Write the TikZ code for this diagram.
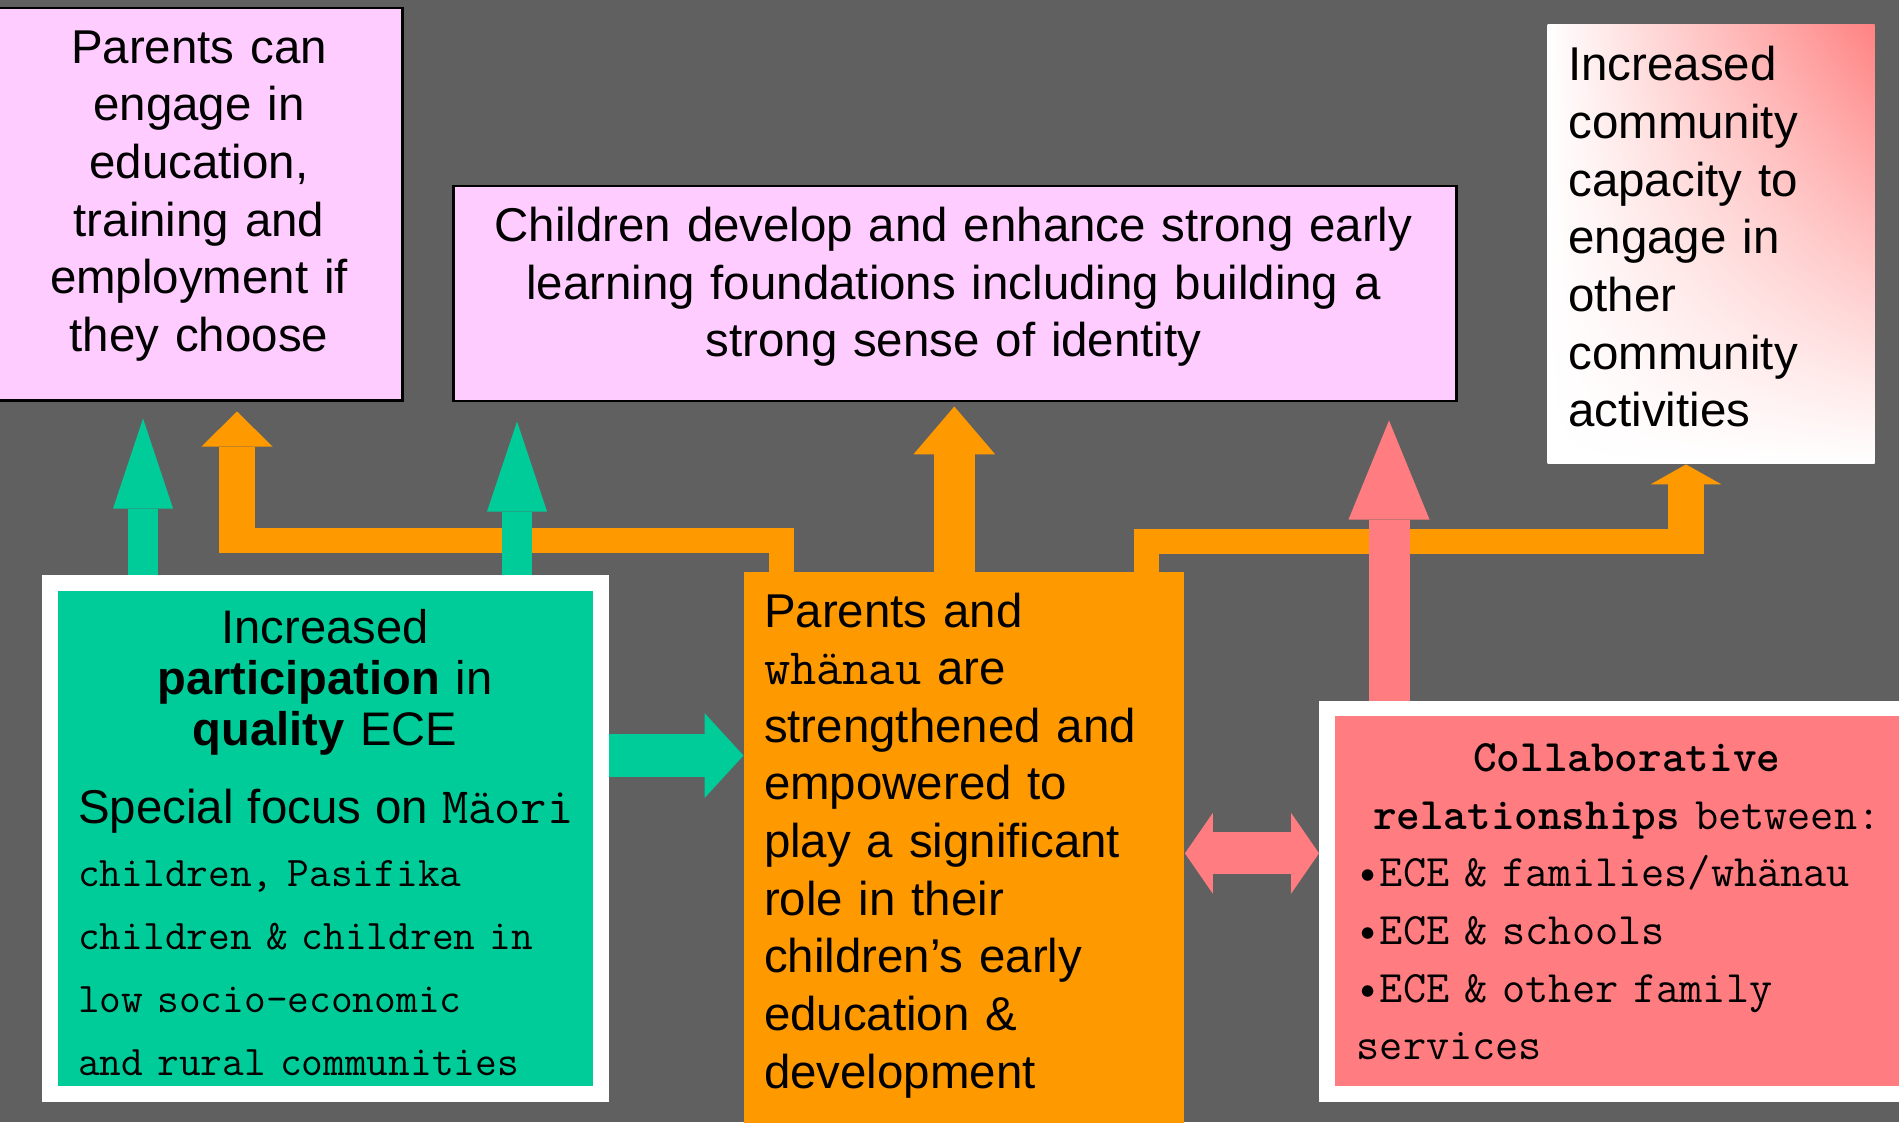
\documentclass[tikz,border=0pt]{standalone}
\usepackage{fontspec}
\setmainfont{Liberation Sans}
\usetikzlibrary{arrows.meta,shadings}

\definecolor{slide}{RGB}{96,96,96}
\definecolor{lilac}{RGB}{255,204,255}
\definecolor{ecegreen}{RGB}{0,204,153}
\definecolor{amber}{RGB}{255,153,0}
\definecolor{salmon}{RGB}{255,124,128}
\definecolor{blush}{RGB}{255,130,130}

\newcommand{\boxtext}{\fontsize{13.5pt}{16.4pt}\selectfont}
\newcommand{\maori}[1]{{\fontsize{14.5pt}{16.4pt}\selectfont\ttfamily #1}}

\begin{document}
\begin{tikzpicture}\tikzstyle{every node}=[inner sep=0pt]
\tikzstyle{outcome}=[draw=black, line width=0.025cm, fill=lilac, anchor=north west]
\tikzstyle{framed}=[draw=white, line width=0.155cm, anchor=north west]
\tikzstyle{blurb}=[font=\boxtext, align=left, anchor=base west]
\tikzstyle{greenup}=[ecegreen, line width=0.30cm, -{Triangle[width=0.60cm, length=0.90cm, line width=0pt]}]
\tikzstyle{greenright}=[ecegreen, line width=0.43cm, -{Triangle[width=0.85cm, length=0.39cm, line width=0pt]}]
\tikzstyle{amberbar}=[amber, line width=0.25cm]
\tikzstyle{amberup}=[amber, line width=0.36cm, -{Triangle[width=0.71cm, length=0.35cm, line width=0pt]}]
\tikzstyle{amberbig}=[amber, line width=0.41cm, -{Triangle[width=0.82cm, length=0.48cm, line width=0pt]}]
\tikzstyle{salmonup}=[salmon, line width=0.41cm, -{Triangle[width=0.81cm, length=0.99cm, line width=0pt]}]
\tikzstyle{salmonboth}=[salmon, line width=0.42cm, {Triangle[width=0.81cm, length=0.28cm, line width=0pt]}-{Triangle[width=0.81cm, length=0.28cm, line width=0pt]}]
\useasboundingbox (0,0) rectangle (18.99,11.22);
\clip (0,0) rectangle (18.99,11.22);
\fill[slide] (0,0) rectangle (18.99,11.22);
% parents can engage
  \node[outcome, minimum width=4.06cm, minimum height=3.92cm] (engage) at (-0.05,11.15) {};
  \node[font=\boxtext, align=center, text width=4cm, anchor=base] (engagetext) at (1.99,10.587)%
{Parents can\\ engage in\\ education,\\ training and\\ employment if\\ they choose};
% children develop
  \node[outcome, minimum width=10.03cm, minimum height=2.15cm] (children) at (4.52,9.37) {};
  \node[font=\boxtext, align=center, text width=9.8cm, anchor=base] (childrentext) at (9.535,8.803)%
{Children develop and enhance strong early\\ learning foundations including building a\\ strong sense of identity};
% community capacity
  \node[anchor=north west, minimum width=3.27cm, minimum height=4.39cm, shade,%
    upper left=white, lower left=white, lower right=white, upper right=blush] (community) at (15.47,10.98) {};
  \node[blurb, text width=3cm] (communitytext) at (15.677,10.41)%
{Increased\\ community\\ capacity to\\ engage in\\ other\\ community\\ activities};
% participation in quality ECE
  \node[framed, fill=ecegreen, minimum width=5.51cm, minimum height=5.11cm] (particip) at (0.42,5.47) {};
  \node[font=\fontsize{13.4pt}{14.65pt}\selectfont, align=center, text width=5.2cm, anchor=base] (partictext) at (3.25,4.79)%
{Increased\\ \textbf{participation} in\\ \textbf{quality} ECE};
  \node[font=\fontsize{12pt}{17.9pt}\selectfont\ttfamily, align=left, text width=5.2cm, anchor=base west] (focustext) at (0.775,2.985)%
{{\fontsize{13.5pt}{17.9pt}\selectfont\rmfamily Special focus on }\maori{Mäori}\\
  children, Pasifika\\
  children \& children in\\
  low socio-economic\\
  and rural communities};
% parents and whanau
  \node[fill=amber, anchor=north west, minimum width=4.40cm, minimum height=6cm] (parents) at (7.435,5.503) {};
  \node[blurb, text width=4.1cm] (parentstext) at (7.633,4.95)%
{Parents and\\ \maori{whänau} are\\ strengthened and\\ empowered to\\ play a significant\\ role in their\\ children’s early\\ education \&\\ development};
% collaborative relationships
  \node[framed, fill=salmon, minimum width=6.5cm, minimum height=3.858cm] (collab) at (13.19,4.215) {};
  \node[font=\fontsize{12.8pt}{16.4pt}\selectfont\ttfamily, align=left, text width=5.4cm, anchor=base west] (collabtext) at (13.56,3.503)%
{{\centering\textbf{Collaborative}\\ \textbf{relationships} between:\par}
  •ECE \& families/whänau\\
  •ECE \& schools\\
  •ECE \& other family\\
  services};
%%%%%%%%%%%%%%%%
\coordinate (lbend) at (2.37,5.815);
\coordinate (rbend) at (16.86,5.805);
\coordinate (amid) at ([xshift=2.108cm]parents.north west);
\draw[amberbar] ([xshift=0.38cm]parents.north west) |- (lbend);
\draw[amberbar] ([xshift=4.03cm]parents.north west) |- (rbend);
\draw[amberup, shorten >=0.1cm] ([yshift=-0.125cm]lbend) -- (lbend |- engage.south);
\draw[amberbig, shorten >=0.04cm] (amid) -- (amid |- children.south);
\draw[amberup, -{Triangle[width=0.71cm, length=0.20cm, line width=0pt]}] ([yshift=-0.125cm]rbend) -- (rbend |- community.south);
\coordinate (gleft) at ([xshift=1.01cm]particip.north west);
\coordinate (gmid) at ([xshift=4.75cm]particip.north west);
\coordinate (gright) at ([yshift=0.827cm]particip.east);
\draw[greenup, shorten >=0.17cm] (gleft) -- (gleft |- engage.south);
\draw[greenup, shorten >=0.19cm] (gmid) -- (gmid |- children.south);
\draw[greenright] (gright) -- (gright -| parents.west);
\coordinate (sup) at ([xshift=0.70cm]collab.north west);
\coordinate (dbly) at (0,2.687);
\draw[salmonup, shorten >=0.18cm] (sup) -- (sup |- children.south);
\draw[salmonboth] (parents.east |- dbly) -- (collab.west |- dbly);
\end{tikzpicture}
\end{document}
